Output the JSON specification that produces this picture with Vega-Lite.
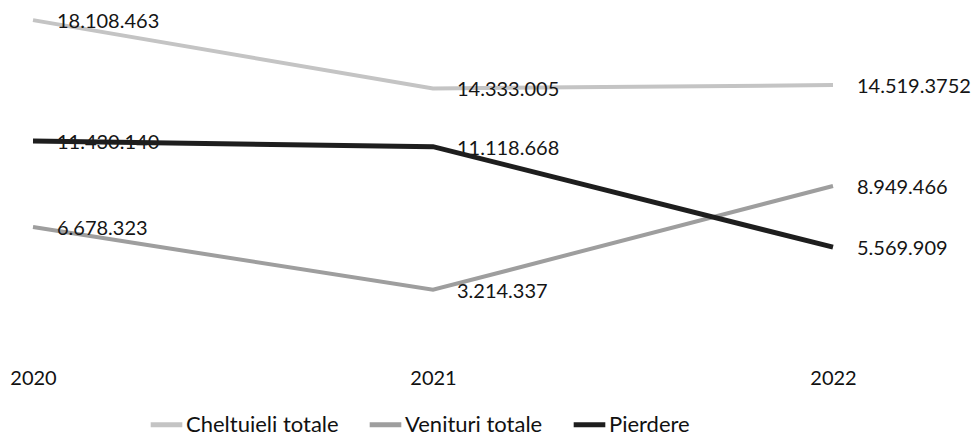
{
  "$schema": "https://vega.github.io/schema/vega-lite/v6.json",
  "width": 800,
  "height": 344,
  "autosize": {"type": "none"},
  "padding": {"left": 33, "top": 4, "right": 143, "bottom": 92},
  "background": "white",
  "config": {"view": {"stroke": null}, "font": "Lato"},
  "data": {
    "values": [
      {"year": "2020", "series": "Cheltuieli totale", "value": 18108463, "label": "18.108.463"},
      {"year": "2021", "series": "Cheltuieli totale", "value": 14333005, "label": "14.333.005"},
      {"year": "2022", "series": "Cheltuieli totale", "value": 14519375, "label": "14.519.3752"},
      {"year": "2020", "series": "Venituri totale", "value": 6678323, "label": "6.678.323"},
      {"year": "2021", "series": "Venituri totale", "value": 3214337, "label": "3.214.337"},
      {"year": "2022", "series": "Venituri totale", "value": 8949466, "label": "8.949.466"},
      {"year": "2020", "series": "Pierdere", "value": 11430140, "label": "11.430.140"},
      {"year": "2021", "series": "Pierdere", "value": 11118668, "label": "11.118.668"},
      {"year": "2022", "series": "Pierdere", "value": 5569909, "label": "5.569.909"}
    ]
  },
  "encoding": {
    "x": {
      "field": "year", "type": "ordinal",
      "scale": {"type": "point", "padding": 0},
      "axis": {"title": null, "domain": false, "ticks": false, "grid": false, "labelAngle": 0,
               "labelFont": "Lato", "labelFontSize": 20, "labelColor": "#111", "labelPadding": 20}
    },
    "y": {
      "field": "value", "type": "quantitative",
      "scale": {"domain": [0, 19000000], "nice": false},
      "axis": null
    }
  },
  "layer": [
    {
      "mark": {"type": "line", "strokeWidth": 4},
      "transform": [{"filter": "datum.series !== 'Pierdere'"}],
      "encoding": {
        "color": {
          "field": "series", "type": "nominal",
          "scale": {"domain": ["Cheltuieli totale", "Venituri totale", "Pierdere"], "range": ["#c4c4c4", "#9e9e9e", "#1e1e1e"]},
          "legend": {
            "title": null, "orient": "none", "direction": "horizontal",
            "legendX": 115, "legendY": 402,
            "symbolType": "stroke", "symbolSize": 1000, "symbolStrokeWidth": 5,
            "labelFont": "Lato", "labelFontSize": 22, "labelColor": "#111",
            "labelOffset": 1, "columnPadding": 20
          }
        }
      }
    },
    {
      "mark": {"type": "text", "align": "left", "baseline": "middle", "dx": 24, "dy": 2, "font": "Lato", "fontSize": 20, "color": "#151515"},
      "encoding": {"text": {"field": "label"}}
    },
    {
      "mark": {"type": "line", "strokeWidth": 5},
      "transform": [{"filter": "datum.series === 'Pierdere'"}],
      "encoding": {"color": {"field": "series", "type": "nominal"}}
    }
  ]
}
